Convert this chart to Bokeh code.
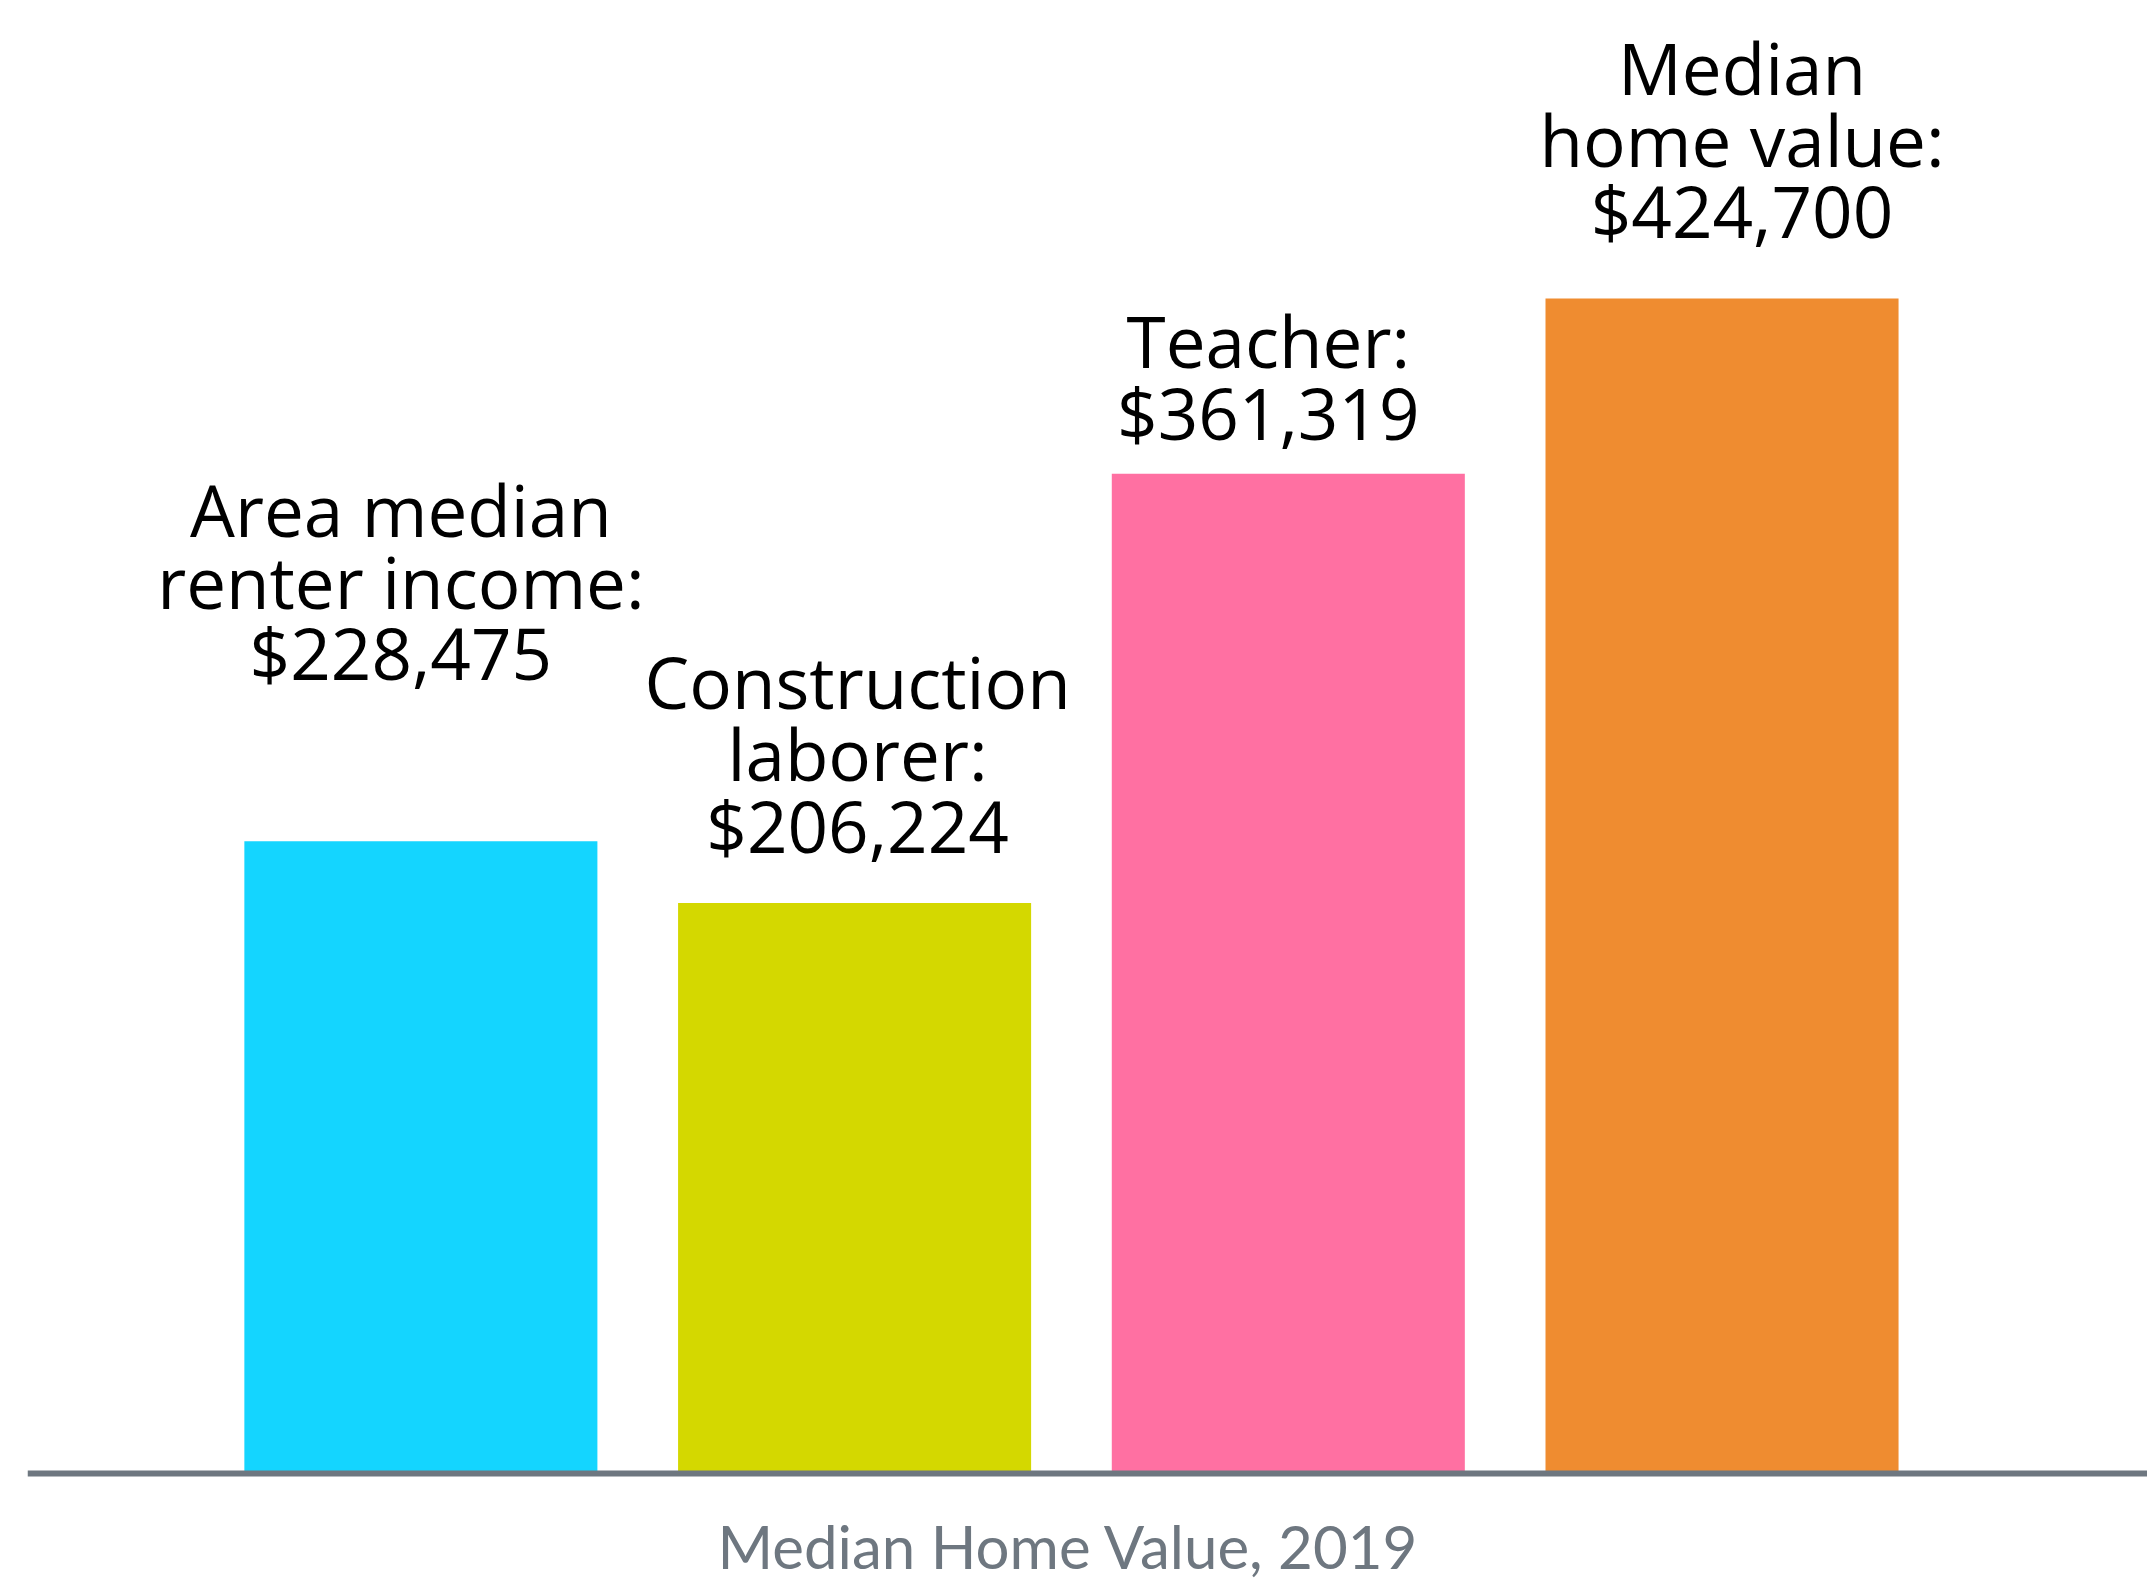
from bokeh.plotting import figure
from bokeh.models import ColumnDataSource, Range1d, Label, Span
from bokeh.core.properties import value
from bokeh.embed import file_html
from bokeh.resources import INLINE

# ---- data ----
categories = ["Area median renter income", "Construction laborer", "Teacher", "Median home value"]
label_texts = ["Area median\nrenter income:\n$228,475",
               "Construction\nlaborer:\n$206,224",
               "Teacher:\n$361,319",
               "Median\nhome value:\n$424,700"]
values = [228475, 206224, 361319, 424700]
colors = ["#14D5FF", "#D4D800", "#FF70A2", "#EF8C30"]
title_text = "Median Home Value, 2019"

# label placement (styling, screen px)
label_dx = [-20, 3, -20, 20]
label_dy = [-140, -29, -13, -39]

idx = list(range(len(categories)))
src = ColumnDataSource(dict(x=idx, top=values, color=colors, label=label_texts,
                            dx=label_dx, dy=label_dy))

p = figure(width=2147, height=1583, output_backend="svg", toolbar_location=None,
           x_range=Range1d(-0.907, 3.981), y_range=Range1d(-39758, 532400),
           min_border_left=27, min_border_right=0, min_border_top=0, min_border_bottom=0)

p.vbar(x="x", top="top", bottom=0, width=0.814, color="color", line_color=None, source=src)

p.text(x="x", y="top", text="label", x_offset="dx", y_offset="dy", source=src,
       text_align="center", text_baseline="bottom", text_font=value("Open Sans"),
       text_font_size="71px", text_line_height=0.74, text_color="#000000")

baseline = Span(location=0, dimension="width", line_color="#6E7780", line_width=6)
p.add_layout(baseline)

title = Label(x=1041, y=38, x_units="screen", y_units="screen", text=title_text,
              text_align="center", text_baseline="alphabetic", text_font="Lato",
              text_font_size="60px", text_color="#6E7780")
p.add_layout(title)

p.outline_line_color = None
p.grid.visible = False
p.axis.visible = False
p.background_fill_color = "white"
p.border_fill_color = "white"

open("out.html", "w").write(file_html(p, INLINE))
